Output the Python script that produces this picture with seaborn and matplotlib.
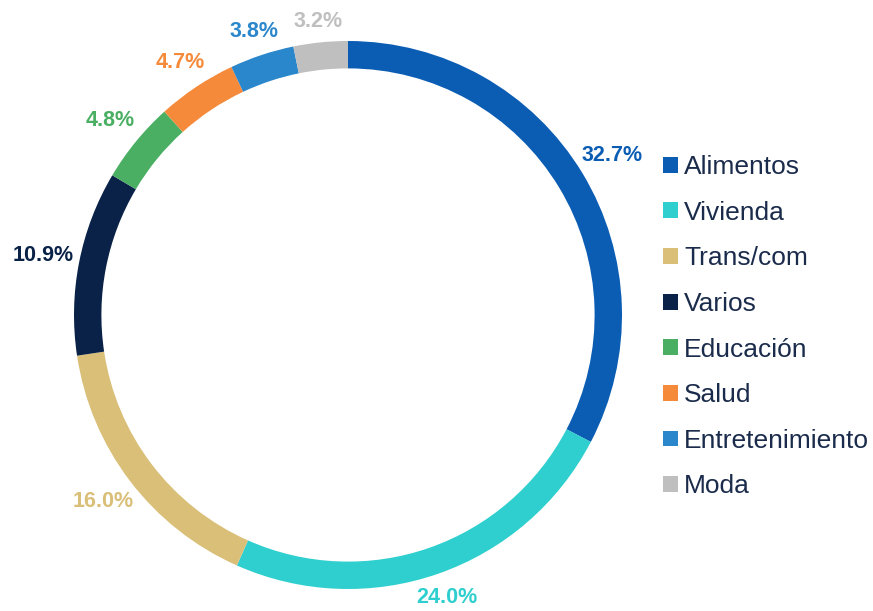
import matplotlib
matplotlib.use("Agg")
import matplotlib.pyplot as plt
import seaborn as sns
import numpy as np
from matplotlib.patches import Patch

categories = ["Alimentos", "Vivienda", "Trans/com", "Varios", "Educación", "Salud", "Entretenimiento", "Moda"]
values = [32.7, 24.0, 16.0, 10.9, 4.8, 4.7, 3.8, 3.2]
labels = ["32.7%", "24.0%", "16.0%", "10.9%", "4.8%", "4.7%", "3.8%", "3.2%"]
colors = ["#0B5DB4", "#2ECFCE", "#D9BF77", "#0A2247", "#4BAF63", "#F68A3B", "#2B87CB", "#BFBFBF"]

sns.set_theme(style="white")
plt.rcParams["font.family"] = ["Liberation Sans", "DejaVu Sans"]
palette = sns.color_palette(colors)

fig = plt.figure(figsize=(8.73, 6.11), dpi=100)
cx, cy, r = 348, 315, 274
ax = fig.add_axes([(cx - r) / 873, (611 - cy - r) / 611, 2 * r / 873, 2 * r / 611])

wedges, _ = ax.pie(values, colors=palette, startangle=90, counterclock=False,
                   wedgeprops=dict(width=0.1, linewidth=0))
for w, lab, c in zip(wedges, labels, colors):
    ang = np.deg2rad((w.theta1 + w.theta2) / 2)
    ca, sa = np.cos(ang), np.sin(ang)
    dist = 1.07 + 0.065 * abs(ca)
    ax.text(dist * ca, dist * sa, lab, color=c, fontweight="bold", fontsize=15.5,
            ha="center", va="center", clip_on=False)
ax.set_xlim(-1, 1)
ax.set_ylim(-1, 1)
ax.set_aspect("equal")

handles = [Patch(facecolor=c, edgecolor="none") for c in colors]
leg = fig.legend(handles, categories, loc="upper left", bbox_to_anchor=(663 / 873, 1 - 155 / 611),
                 frameon=False, fontsize=19, labelspacing=0.82, handlelength=0.55, handleheight=0.55,
                 handletextpad=0.25, borderpad=0, borderaxespad=0, labelcolor="#1B2B4B")

fig.savefig("out.png", dpi=100)
